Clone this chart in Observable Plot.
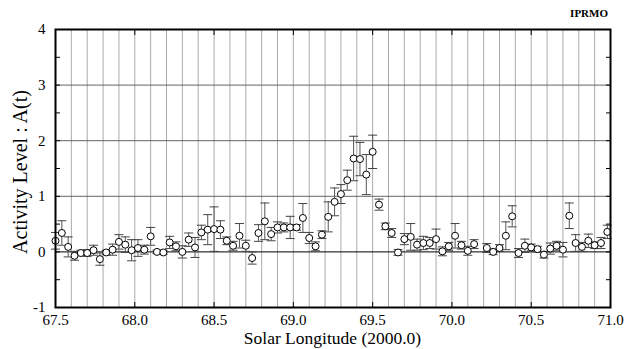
<!DOCTYPE html>
<html><head><meta charset="utf-8">
<script src="https://cdn.jsdelivr.net/npm/d3@7"></script>
<script src="https://cdn.jsdelivr.net/npm/@observablehq/plot@0.6"></script>
<style>
body{margin:0;background:#fff;}
#chart{width:630px;height:349px;}
#chart svg text{font-family:'Liberation Serif','Times New Roman',serif;}
</style></head><body><div id="chart"></div>
<script>
const longitude = [67.50,67.54,67.58,67.62,67.66,67.70,67.74,67.78,67.82,67.86,67.90,67.94,67.98,68.02,68.06,68.10,68.14,68.18,68.22,68.26,68.30,68.34,68.38,68.42,68.46,68.50,68.54,68.58,68.62,68.66,68.70,68.74,68.78,68.82,68.86,68.90,68.94,68.98,69.02,69.06,69.10,69.14,69.18,69.22,69.26,69.30,69.34,69.38,69.42,69.46,69.50,69.54,69.58,69.62,69.66,69.70,69.74,69.78,69.82,69.86,69.90,69.94,69.98,70.02,70.06,70.10,70.14,70.22,70.26,70.30,70.34,70.38,70.42,70.46,70.50,70.54,70.58,70.62,70.66,70.70,70.74,70.78,70.82,70.86,70.90,70.94,70.98];
const activity = [0.20,0.34,0.09,-0.07,-0.02,-0.02,0.03,-0.13,-0.01,0.04,0.18,0.13,0.03,0.07,0.04,0.28,0.00,-0.01,0.17,0.10,0.00,0.22,0.08,0.35,0.40,0.41,0.40,0.20,0.11,0.29,0.11,-0.11,0.34,0.55,0.32,0.44,0.44,0.44,0.44,0.61,0.25,0.10,0.31,0.63,0.90,1.04,1.29,1.68,1.67,1.39,1.80,0.85,0.46,0.34,-0.01,0.23,0.27,0.13,0.16,0.16,0.23,0.01,0.10,0.29,0.12,0.02,0.14,0.07,0.00,0.07,0.29,0.64,-0.02,0.11,0.08,0.05,-0.05,0.06,0.11,0.04,0.65,0.16,0.09,0.20,0.12,0.16,0.36];
const errorBar = [0.15,0.22,0.18,0.08,0.05,0.06,0.09,0.11,0.04,0.10,0.13,0.14,0.19,0.15,0.08,0.16,0.03,0.03,0.11,0.08,0.11,0.12,0.18,0.13,0.27,0.40,0.16,0.07,0.08,0.22,0.10,0.11,0.15,0.33,0.12,0.10,0.08,0.20,0.05,0.26,0.10,0.08,0.07,0.27,0.25,0.17,0.18,0.40,0.30,0.36,0.30,0.10,0.06,0.08,0.05,0.10,0.24,0.10,0.12,0.10,0.18,0.08,0.07,0.22,0.07,0.08,0.08,0.08,0.05,0.06,0.25,0.19,0.08,0.12,0.06,0.05,0.06,0.10,0.08,0.13,0.23,0.15,0.08,0.12,0.06,0.10,0.12];
const xTicks = [67.5,68.0,68.5,69.0,69.5,70.0,70.5,71.0];
const yTicks = [-1,0,1,2,3,4];
const yMinorTicks = [-0.5,0,0.5,1,1.5,2,2.5,3,3.5];
const gridLon = [67.6,67.7,67.8,67.9,68.0,68.1,68.2,68.3,68.4,68.5,68.6,68.7,68.8,68.9,69.0,69.1,69.2,69.3,69.4,69.5,69.6,69.7,69.8,69.9,70.0,70.1,70.2,70.3,70.4,70.5,70.6,70.7,70.8,70.9];
const xTitle = "Solar Longitude (2000.0)";
const yTitle = "Activity Level : A(t)";
const tag = "IPRMO";

const data = longitude.map((x, i) => ({x, y: activity[i], lo: activity[i] - errorBar[i], hi: activity[i] + errorBar[i]}));
const capSymbol = {draw(ctx) { ctx.moveTo(-4.5, 0); ctx.lineTo(4.5, 0); }};
const serif = "'Liberation Serif', 'Times New Roman', serif";
const W = 630, H = 349, mL = 55, mR = 20, mT = 29, mB = 42;

const chart = Plot.plot({
  width: W, height: H,
  marginLeft: mL, marginRight: mR, marginTop: mT, marginBottom: mB,
  style: {fontFamily: serif, fontSize: "15px", color: "#000", background: "#fff"},
  x: {domain: [67.5, 71.0]},
  y: {domain: [-1, 4]},
  marks: [
    Plot.ruleX(gridLon, {stroke: "#aaa", strokeWidth: 1}),
    Plot.ruleY(yTicks.filter(d => d > 0 && d < 4), {stroke: "#555", strokeWidth: 0.9}),
    Plot.ruleY([0], {stroke: "#000", strokeWidth: 1}),
    Plot.ruleX(data, {x: "x", y1: "lo", y2: "hi", stroke: "#555", strokeWidth: 1}),
    Plot.dot(data, {x: "x", y: "hi", symbol: capSymbol, stroke: "#444", strokeWidth: 1}),
    Plot.dot(data, {x: "x", y: "lo", symbol: capSymbol, stroke: "#444", strokeWidth: 1}),
    Plot.dot(data, {x: "x", y: "y", r: 3.5, fill: "#fff", stroke: "#000", strokeWidth: 1}),
    Plot.axisX(xTicks, {anchor: "bottom", tickSize: 0, tickPadding: 7, tickFormat: d3.format(".1f"), label: null, fontFamily: serif}),
    Plot.axisX(xTicks, {anchor: "bottom", tickSize: -5, text: null, label: null}),
    Plot.axisX(xTicks, {anchor: "top", tickSize: -5, text: null, label: null}),
    Plot.axisY(yTicks, {anchor: "left", tickSize: 0, tickPadding: 10, tickFormat: d => String(d), label: null, fontFamily: serif}),
    Plot.axisY(yMinorTicks, {anchor: "left", tickSize: -5, text: null, label: null}),
    Plot.axisY(yMinorTicks, {anchor: "right", tickSize: -5, text: null, label: null}),
    Plot.frame({stroke: "#000", strokeWidth: 2})
  ]
});

const svg = d3.select(chart);
const cx = mL + (W - mL - mR) / 2, cy = mT + (H - mT - mB) / 2;
svg.append("text").text(xTitle)
  .attr("x", cx).attr("y", H - 5)
  .attr("text-anchor", "middle").style("font-size", "17.5px").style("font-family", serif).attr("fill", "#000");
svg.append("text").text(yTitle)
  .attr("transform", `translate(${mL - 28},${cy + 4}) rotate(-90)`)
  .attr("text-anchor", "middle").style("font-size", "20px").style("font-family", serif).attr("fill", "#000");
svg.append("text").text(tag)
  .attr("x", W - mR - 2).attr("y", 17)
  .attr("text-anchor", "end").style("font-size", "11px").style("font-weight", "bold").style("font-family", serif).attr("fill", "#000");
document.getElementById("chart").appendChild(chart);
</script>
</body></html>
